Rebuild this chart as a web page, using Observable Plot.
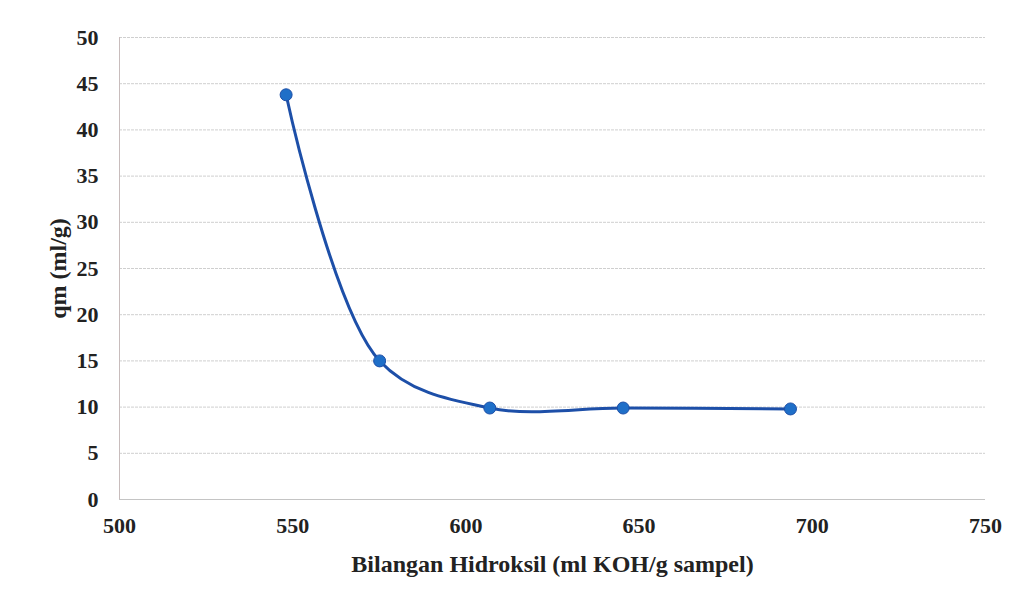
<!DOCTYPE html>
<html>
<head>
<meta charset="utf-8">
<script src="https://cdn.jsdelivr.net/npm/d3@7"></script>
<script src="https://cdn.jsdelivr.net/npm/@observablehq/plot@0.6"></script>
<style>
  html, body { margin: 0; padding: 0; background: #fff; }
  #chart { width: 1022px; height: 606px; }
</style>
</head>
<body>
<div id="chart"></div>
<script>
const hydroxyl = [548.1, 575.1, 606.9, 645.4, 693.7];
const qm = [43.8, 15.0, 9.9, 9.9, 9.8];
const xTicks = [500, 550, 600, 650, 700, 750];
const yTicks = [0, 5, 10, 15, 20, 25, 30, 35, 40, 45, 50];
const xLabel = "Bilangan Hidroksil (ml KOH/g sampel)";
const yLabel = "qm (ml/g)";

const data = hydroxyl.map((x, i) => ({x, y: qm[i]}));
const font = "'Liberation Serif', 'DejaVu Serif', serif";

const chart = Plot.plot({
  width: 1022,
  height: 606,
  marginLeft: 119,
  marginRight: 37,
  marginTop: 37,
  marginBottom: 107,
  style: { fontFamily: font, fontSize: "22px", fontWeight: "bold", color: "#222", background: "#fff" },
  x: { domain: [500, 750] },
  y: { domain: [0, 50] },
  marks: [
    Plot.gridY(yTicks.filter(d => d > 0), { stroke: "#cfcfcf", strokeOpacity: 1, strokeDasharray: "3,1" }),
    Plot.ruleY([0], { stroke: "#c4c4c4", strokeWidth: 1 }),
    Plot.ruleX([500], { stroke: "#c8bcbc", strokeWidth: 1 }),
    Plot.axisY({ ticks: yTicks, tickSize: 0, tickPadding: 21, fontSize: 22,
      label: null }),
    Plot.axisX({ ticks: xTicks, tickSize: 0, tickPadding: 18, fontSize: 22,
      label: null }),
    Plot.axisY({ ticks: [], tickSize: 0, fontSize: 24,
      label: yLabel, labelAnchor: "center", labelArrow: "none", labelOffset: 71 }),
    Plot.axisX({ ticks: [], tickSize: 0, fontSize: 24,
      label: xLabel, labelAnchor: "center", labelArrow: "none", labelOffset: 72 }),
    Plot.line(data, { x: "x", y: "y", curve: "catmull-rom", stroke: "#1d4fa8", strokeWidth: 3 }),
    Plot.dot(data, { x: "x", y: "y", r: 6, fill: "#1f6fc8", stroke: "#1d4fa8", strokeWidth: 1 })
  ]
});
document.getElementById("chart").appendChild(chart);
</script>
</body>
</html>
